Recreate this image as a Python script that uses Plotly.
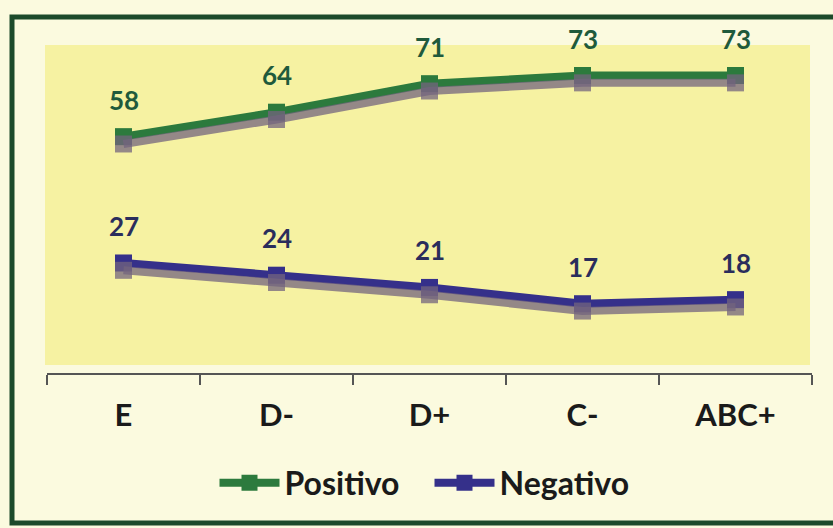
import plotly.graph_objects as go

categories = ["E", "D-", "D+", "C-", "ABC+"]
positivo = [58, 64, 71, 73, 73]
negativo = [27, 24, 21, 17, 18]
series_names = ["Positivo", "Negativo"]

GREEN = "#2c7a3d"
GREEN_TXT = "#1f5a3c"
BLUE = "#35308a"
BLUE_TXT = "#2a2d5c"
SHADOW = "rgba(115,100,125,0.75)"
FONT = "Lato"

fig = go.Figure()

# shadows (drawn on a shifted overlay axis)
for vals in (positivo, negativo):
    fig.add_trace(go.Scatter(
        x=categories, y=vals, yaxis="y2", mode="lines+markers",
        line=dict(color=SHADOW, width=8),
        marker=dict(symbol="square", size=17, color=SHADOW),
        showlegend=False, hoverinfo="skip"))

for name, vals, col in ((series_names[0], positivo, GREEN), (series_names[1], negativo, BLUE)):
    fig.add_trace(go.Scatter(
        x=categories, y=vals, mode="lines+markers", name=name,
        line=dict(color=col, width=8),
        marker=dict(symbol="square", size=17, color=col)))

annotations = []
for vals, col in ((positivo, GREEN_TXT), (negativo, BLUE_TXT)):
    for c, v in zip(categories, vals):
        annotations.append(dict(
            x=c, y=v, xref="x", yref="y", text=str(v), showarrow=False,
            yshift=37, yanchor="middle",
            font=dict(family=FONT, size=26, color=col, weight="bold")))

L, R, T, B = 47, 21, 47, 155
W, H = 833, 528
pw, ph = W - L - R, H - T - B

def px(x):
    return (x - L) / pw

def py(y):
    return (H - B - y) / ph

shapes = [
    dict(type="rect", xref="paper", yref="paper", layer="below",
         x0=px(45), x1=px(810), y0=py(365), y1=py(45),
         fillcolor="#f6f2a2", line=dict(width=0)),
    dict(type="rect", xref="paper", yref="paper", layer="above",
         x0=px(12), x1=px(840), y0=py(523), y1=py(17),
         fillcolor="rgba(0,0,0,0)", line=dict(color="#1c4a2b", width=5)),
]

fig.update_layout(
    width=W, height=H,
    margin=dict(l=L, r=R, t=T, b=B),
    paper_bgcolor="#fbfadf",
    plot_bgcolor="rgba(0,0,0,0)",
    shapes=shapes,
    annotations=annotations,
    xaxis=dict(type="category", range=[-0.5, 4.5], tickson="boundaries",
               ticks="outside", ticklen=10, tickwidth=2, tickcolor="#555",
               showline=True, linecolor="#555", linewidth=2, showgrid=False,
               ticklabelstandoff=14,
               tickfont=dict(family=FONT, size=31, color="#1a1a1a", weight="bold")),
    yaxis=dict(range=[0, 80], visible=False),
    yaxis2=dict(range=[1.8, 81.8], overlaying="y", visible=False),
    legend=dict(orientation="h", x=0.5, xanchor="center", y=py(483), yanchor="middle",
                bgcolor="rgba(0,0,0,0)", itemwidth=60, entrywidth=140,
                font=dict(family=FONT, size=32, color="#1a1a1a", weight="bold")),
    showlegend=True,
)

fig.write_html("out.html", config={"displayModeBar": False},
               post_script="document.body.style.margin='0';")
